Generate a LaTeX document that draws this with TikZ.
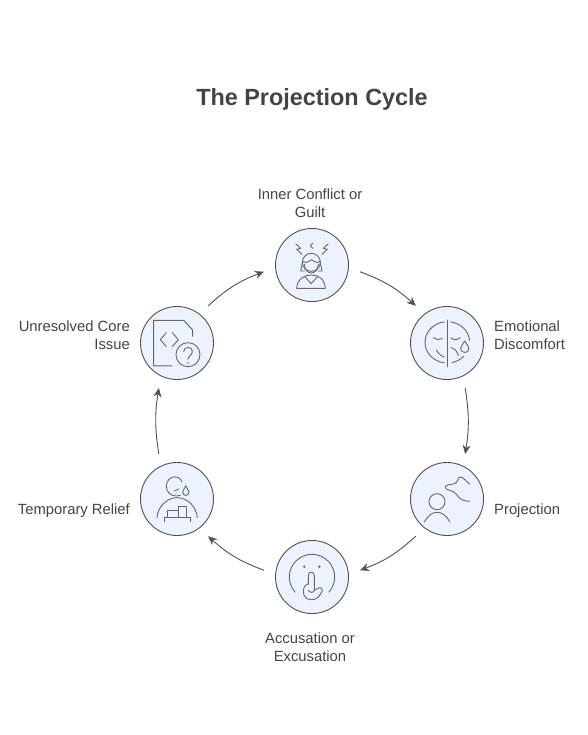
\documentclass[tikz,border=0pt]{standalone}
\usepackage{fontspec}
\setmainfont{Liberation Sans}
\usetikzlibrary{arrows.meta}
\definecolor{ink}{HTML}{505050}
\definecolor{icoc}{HTML}{666666}
\definecolor{disc}{HTML}{EDF3FE}
\definecolor{txt}{HTML}{444444}
\tikzset{
 disc/.style={circle,draw=ink,fill=disc,line width=0.9pt,minimum size=73pt,inner sep=0pt,outer sep=12pt},
 lab/.style={text=txt,font=\fontsize{14.8}{18}\selectfont,align=center,inner sep=0pt},
 conn/.style={draw=ink,line width=0.9pt,-{Stealth[length=9pt,width=8pt]}},
 ico/.style={draw=icoc,line width=0.9pt,line cap=round,line join=round,fill=none},
 zoomA/.style={x=0.3333pt,y=-0.3333pt}
}
\begin{document}
\begin{tikzpicture}[x=1pt,y=-1pt]
\useasboundingbox (0,0) rectangle (588,735);
\fill[white] (0,0) rectangle (588,735);
\node[text=txt,font=\fontsize{23.4}{28}\selectfont\bfseries,inner sep=0pt] (title) at (312,99) {The Projection Cycle};
\node[disc] (n1) at (312,265) {};
\node[disc] (n2) at (447,343) {};
\node[disc] (n3) at (447,499) {};
\node[disc] (n4) at (312,577) {};
\node[disc] (n5) at (177,499) {};
\node[disc] (n6) at (177,343) {};
\node[lab] (l1) at (310,203) {Inner Conflict or\\Guilt};
\node[lab,align=left,anchor=west] (l2) at (494,335) {Emotional\\Discomfort};
\node[lab,anchor=west] (l3) at (494,511) {Projection};
\node[lab] (l4) at (310,647) {Accusation or\\Excusation};
\node[lab,anchor=east] (l5) at (130,511) {Temporary Relief};
\node[lab,align=right,anchor=east] (l6) at (130,335) {Unresolved Core\\Issue};
\draw[conn] (n1.-8) to[bend left=11] (n2.130);
\draw[conn] (n2.-68) to[bend left=9] (n3.68);
\draw[conn] (n3.-130) to[bend left=11] (n4.8);
\draw[conn] (n4.172) to[bend left=11] (n5.-50);
\draw[conn] (n5.112) to[bend left=9] (n6.-112);
\draw[conn] (n6.50) to[bend left=11] (n1.188);
% icon 1
\begin{scope}[shift={(260pt,-215pt)},zoomA]
\draw[ico] (107,86) -- (122,100) -- (110,103) -- (126,118);
\draw[ico] (158,84) -- (151,93) -- (159,100);
\draw[ico] (205,86) -- (190,100) -- (202,103) -- (186,118);
\draw[ico] (154,142) circle (27);
\draw[ico] (129,140) .. controls (142,147) and (150,136) .. (154,134) .. controls (160,136) and (168,147) .. (179,140);
\draw[ico] (133,148) .. controls (134,165) and (144,174) .. (154,174) .. controls (164,174) and (174,165) .. (175,148);
\draw[ico] (128,138) -- (122,168) -- (134,168);
\draw[ico] (180,138) -- (186,168) -- (174,168);
\draw[ico] (110,220) .. controls (112,192) and (132,180) .. (154,180) .. controls (176,180) and (194,192) .. (196,220) -- cycle;
\draw[ico] (134,184) -- (153,206) -- (174,184);
\end{scope}
% icon 2
\begin{scope}[shift={(395pt,-295pt)},zoomA]
\draw[ico,line width=1pt] (156,75) -- (156,215);
\draw[ico] (157,142) ++(262:67 and 62) arc[start angle=262,end angle=98,x radius=67,y radius=62];
\draw[ico] (157,142) ++(-82:67 and 62) arc[start angle=-82,end angle=-5,x radius=67,y radius=62];
\draw[ico] (157,142) ++(78:67 and 62) arc[start angle=78,end angle=42,x radius=67,y radius=62];
\draw[ico] (115,128) .. controls (122,135) and (132,135) .. (142,130);
\draw[ico] (168,128) .. controls (175,136) and (185,136) .. (196,128);
\draw[ico] (124,165) .. controls (130,175) and (138,183) .. (148,186);
\draw[ico] (168,158) .. controls (178,160) and (188,170) .. (190,182);
\draw[ico] (209,138) .. controls (202,150) and (197,155) .. (197,161) .. controls (197,176) and (222,176) .. (222,161) .. controls (222,155) and (216,150) .. (209,138) -- cycle;
\end{scope}
% icon 3
\begin{scope}[shift={(395pt,-450pt)},zoomA]
\draw[ico] (126,155) circle (24);
\draw[ico] (88,216) .. controls (100,195) and (112,187) .. (126,187) .. controls (140,187) and (154,195) .. (164,216);
\draw[ico] (224,102) .. controls (214,96) and (206,82) .. (197,81) .. controls (186,80) and (192,98) .. (176,102) .. controls (164,104) and (151,104) .. (151,112) .. controls (151,120) and (166,120) .. (175,125) .. controls (190,133) and (188,153) .. (224,154);
\end{scope}
% icon 4
\begin{scope}[shift={(260pt,-527pt)},zoomA]
\draw[ico] (156,150) ++(138:68) arc[start angle=138,end angle=402,radius=68];
\fill[icoc] (133,119) circle (4);
\fill[icoc] (178,119) circle (4);
\draw[ico] (145,172) -- (145,146) .. controls (145,132) and (163,132) .. (163,146) -- (163,190);
\draw[ico] (145,170) .. controls (130,175) and (128,190) .. (132,205) .. controls (138,222) and (165,222) .. (175,210) .. controls (180,200) and (190,195) .. (186,186) .. controls (180,178) and (170,185) .. (163,190) .. controls (160,198) and (150,198) .. (145,190);
\end{scope}
% icon 5
\begin{scope}[shift={(127pt,-450pt)},zoomA]
\draw[ico] (165,95) .. controls (160,82) and (145,78) .. (135,82) .. controls (120,88) and (115,105) .. (120,120) .. controls (125,135) and (145,142) .. (160,136);
\draw[ico] (143,122) -- (156,117);
\draw[ico] (176,107) .. controls (172,118) and (167,122) .. (167,127) .. controls (167,139) and (186,139) .. (186,127) .. controls (186,122) and (180,118) .. (176,107) -- cycle;
\draw[ico] (90,203) .. controls (92,170) and (120,143) .. (150,143) .. controls (182,143) and (208,170) .. (211,203);
\draw[ico] (112,215) -- (112,202) -- (189,202) -- (189,215);
\draw[ico] (122,202) -- (122,181) -- (153,181) -- (153,202);
\draw[ico] (153,181) -- (153,169) -- (178,169) -- (178,202);
\end{scope}
% icon 6
\begin{scope}[shift={(127pt,-295pt)},zoomA]
\draw[ico,line width=1pt] (135,213) -- (80,213) -- (80,76) -- (170,76) -- (197,105) -- (197,124);
\draw[ico] (118,113) -- (100,134) -- (118,155);
\draw[ico] (136,113) -- (154,134) -- (136,155);
\draw[ico] (183,179) circle (36);
\draw[ico] (170,170) .. controls (170,155) and (194,152) .. (196,168) .. controls (197,182) and (183,182) .. (183,193);
\fill[icoc] (183,204) circle (2.5);
\end{scope}
\end{tikzpicture}
\end{document}
